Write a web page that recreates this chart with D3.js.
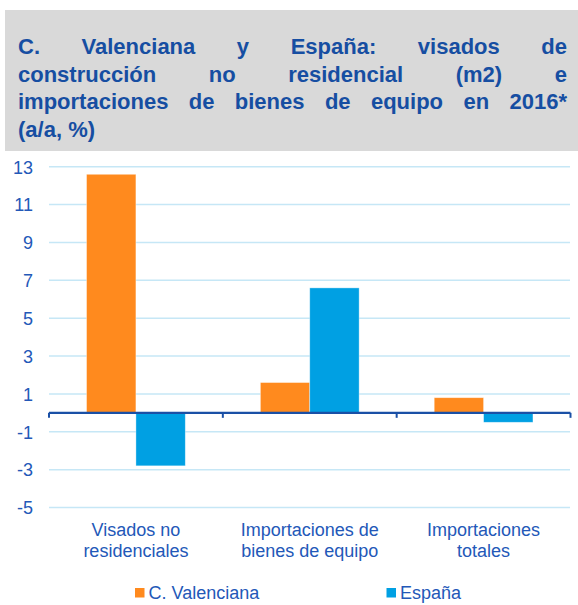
<!DOCTYPE html>
<html>
<head>
<meta charset="utf-8">
<script src="https://cdn.jsdelivr.net/npm/d3@7"></script>
<style>
  html, body { margin: 0; padding: 0; background: #fff; }
  svg { display: block; font-family: "Liberation Sans", Arial, sans-serif; }
</style>
</head>
<body>
<svg id="chart" width="578" height="605"></svg>
<script>
// ---- data ----
const categories = [["Visados no", "residenciales"], ["Importaciones de", "bienes de equipo"], ["Importaciones", "totales"]];
const seriesNames = ["C. Valenciana", "España"];
const valenciana = [12.6, 1.6, 0.8];
const espana = [-2.8, 6.6, -0.5];
const yTicks = [-5, -3, -1, 1, 3, 5, 7, 9, 11, 13];
const titleLines = [
  ["C.", "Valenciana", "y", "España:", "visados", "de"],
  ["construcción", "no", "residencial", "(m2)", "e"],
  ["importaciones", "de", "bienes", "de", "equipo", "en", "2016*"],
  ["(a/a, %)"]
];

const colors = ["#FF8A1E", "#00A0E3"];
const labelColor = "#2358B8";
const titleColor = "#164EA2";

const svg = d3.select("#chart");

// ---- title box ----
svg.append("rect").attr("x", 5).attr("y", 10).attr("width", 573).attr("height", 141).attr("fill", "#D9D9D9");

const tLeft = 18, tRight = 567;
const baselines = [54, 81.5, 109, 136.5];
titleLines.forEach((words, li) => {
  const g = svg.append("g");
  const nodes = words.map(w => g.append("text")
    .attr("y", baselines[li])
    .attr("font-size", 22).attr("font-weight", "bold")
    .attr("fill", titleColor).text(w));
  const widths = nodes.map(n => n.node().getComputedTextLength());
  const justify = li < titleLines.length - 1 && words.length > 1;
  const total = d3.sum(widths);
  const gap = justify ? (tRight - tLeft - total) / (words.length - 1) : 6.1;
  let x = tLeft;
  nodes.forEach((n, i) => { n.attr("x", x); x += widths[i] + gap; });
});

// ---- scales ----
const x0 = d3.scaleBand().domain(d3.range(categories.length)).range([49, 570.5]).padding(0);
const x1 = d3.scaleBand().domain(d3.range(seriesNames.length)).range([0, x0.bandwidth()]).paddingInner(0).paddingOuter(0.76);
const y = d3.scaleLinear().domain([-5, 13]).range([507.5, 166.7]);

// gridlines
svg.append("g").selectAll("line").data(yTicks).join("line")
  .attr("x1", 49).attr("x2", 570)
  .attr("y1", d => y(d)).attr("y2", d => y(d))
  .attr("stroke", "#C6E7F6").attr("stroke-width", 1.5);

// y axis labels
const yAxis = d3.axisLeft(y).tickValues(yTicks).tickSize(0).tickPadding(0).tickFormat(d => String(d));
const ya = svg.append("g").attr("transform", "translate(33,0)").call(yAxis);
ya.select(".domain").remove();
ya.selectAll("text").attr("font-size", 18).attr("fill", labelColor)
  .attr("font-family", "Liberation Sans, Arial, sans-serif").attr("dy", "0.35em");

// bars
const series = [valenciana, espana];
series.forEach((vals, si) => {
  svg.append("g").selectAll("rect").data(vals).join("rect")
    .attr("x", (d, i) => x0(i) + x1(si))
    .attr("width", x1.bandwidth())
    .attr("y", d => Math.min(y(d), y(0)))
    .attr("height", d => Math.abs(y(d) - y(0)))
    .attr("fill", colors[si])
    .attr("stroke", "#ffffff").attr("stroke-opacity", 0.5).attr("stroke-width", 0.75);
});

// zero axis with category boundary ticks
const xa = svg.append("g").attr("transform", `translate(0,${y(0)})`);
xa.append("line").attr("x1", 49).attr("x2", 570.5).attr("y1", 0).attr("y2", 0)
  .attr("stroke", "#1A50A6").attr("stroke-width", 2.25);
const bounds = d3.range(categories.length + 1).map(i => i < categories.length ? x0(i) : x0.range()[1]);
xa.selectAll("line.tk").data(bounds).join("line").attr("class", "tk")
  .attr("x1", d => d).attr("x2", d => d).attr("y1", 0).attr("y2", 5)
  .attr("stroke", "#1A50A6").attr("stroke-width", 2);

// category labels
categories.forEach((lines, i) => {
  const cx = x0(i) + x0.bandwidth() / 2;
  lines.forEach((t, k) => {
    svg.append("text").attr("x", cx).attr("y", 535.5 + k * 21.5)
      .attr("text-anchor", "middle").attr("font-size", 18).attr("fill", labelColor).text(t);
  });
});

// legend
const legendX = [135, 386.5];
seriesNames.forEach((name, i) => {
  svg.append("rect").attr("x", legendX[i]).attr("y", 588).attr("width", 9.5).attr("height", 9.5).attr("fill", colors[i]);
  svg.append("text").attr("x", legendX[i] + 13.5).attr("y", 598.5)
    .attr("font-size", 18).attr("fill", labelColor).text(name);
});
</script>
</body>
</html>
